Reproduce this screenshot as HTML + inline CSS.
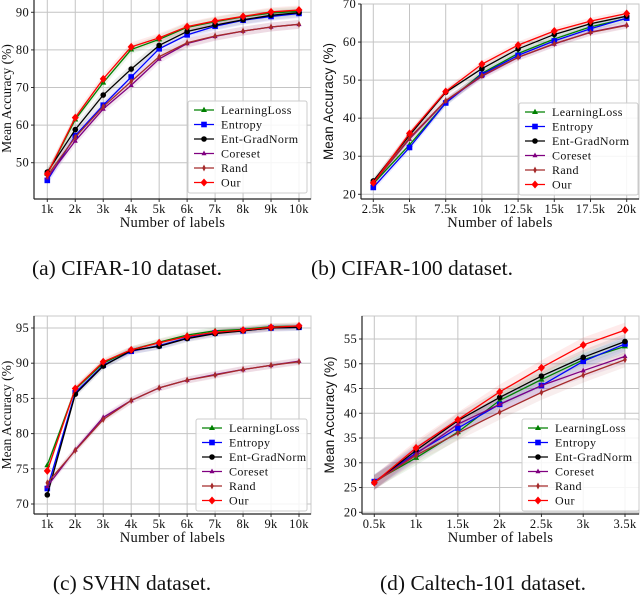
<!DOCTYPE html>
<html><head><meta charset="utf-8"><style>
html,body{margin:0;padding:0;background:#fff;}
svg{display:block;}
text{font-family:"Liberation Serif",serif;fill:#111;}
</style></head>
<body>
<svg id="fig" width="640" height="597" viewBox="0 0 640 597" xmlns="http://www.w3.org/2000/svg"></svg>
<script>
// ---- Data ----
const seriesNames = ["LearningLoss","Entropy","Ent-GradNorm","Coreset","Rand","Our"];
const seriesColors = ["#008000","#0000ff","#000000","#800080","#a52a2a","#ff0000"];

const cifar10Labels = ["1k","2k","3k","4k","5k","6k","7k","8k","9k","10k"];
const cifar10Ticks = [50,60,70,80,90];
const cifar10LL = [47,61.5,71.3,80.1,82.8,86,87.5,88.8,89.8,90.3];
const cifar10Ent = [45.3,57.2,65.3,72.8,80.3,84,86.3,87.9,88.9,89.7];
const cifar10EGN = [47.5,58.8,68,74.9,81.2,84.9,86.6,88,89.2,89.9];
const cifar10Core = [46,55.8,64.3,70.6,77.6,81.7,83.6,85,86.1,86.8];
const cifar10Rand = [46.5,56.8,64.9,71.6,78.2,81.9,83.7,85,86.1,86.8];
const cifar10Our = [47,62,72.3,80.8,83.2,86.2,87.7,88.9,90.1,90.6];

const cifar100Labels = ["2.5k","5k","7.5k","10k","12.5k","15k","17.5k","20k"];
const cifar100Ticks = [20,30,40,50,60,70];
const cifar100LL = [22.8,33,44,51.8,57,60.8,64,66.2];
const cifar100Ent = [21.8,32.3,44,51.5,56.5,60.3,63.5,66.3];
const cifar100EGN = [23.5,35.5,46.8,53,58.2,62,64.8,66.8];
const cifar100Core = [23,34.5,44.5,51,56,59.5,62.6,64.5];
const cifar100Rand = [23,34.8,44.6,51.2,56,59.6,62.5,64.4];
const cifar100Our = [23,36,47,54.2,59.2,62.9,65.5,67.5];

const svhnLabels = ["1k","2k","3k","4k","5k","6k","7k","8k","9k","10k"];
const svhnTicks = [70,75,80,85,90,95];
const svhnLL = [75.5,86.3,90,91.9,93,94,94.6,94.8,95.2,95.3];
const svhnEnt = [72.2,85.8,89.7,91.7,92.5,93.6,94.3,94.6,95,95.1];
const svhnEGN = [71.3,85.6,89.6,91.8,92.4,93.5,94.2,94.6,95,95.1];
const svhnCore = [72.5,77.7,82.3,84.7,86.5,87.6,88.4,89.1,89.7,90.3];
const svhnRand = [73,77.6,82,84.7,86.5,87.6,88.3,89.1,89.7,90.2];
const svhnOur = [74.7,86.4,90.2,91.9,92.9,93.8,94.4,94.7,95.1,95.3];

const caltechLabels = ["0.5k","1k","1.5k","2k","2.5k","3k","3.5k"];
const caltechTicks = [20,25,30,35,40,45,50,55];
const caltechLL = [26.2,31,36.2,42.6,46.8,50.8,53.5];
const caltechEnt = [26.2,32,37,41.8,45.6,50.5,54];
const caltechEGN = [26,32.5,38.5,43.2,47.5,51.3,54.5];
const caltechCore = [26,31.8,37.8,41.8,45.6,48.6,51.5];
const caltechRand = [26,31.5,36,40.2,44.2,47.7,50.8];
const caltechOur = [26,33,38.7,44.3,49.2,53.8,56.8];

// ---- Drawing ----
const NS="http://www.w3.org/2000/svg";
const svg=document.getElementById('fig');
function mk(tag,attrs,parent){const e=document.createElementNS(NS,tag);for(const k in attrs)e.setAttribute(k,attrs[k]);(parent||svg).appendChild(e);return e;}

function marker(g,kind,x,y,c){
  let e;
  if(kind===0){e=mk('polygon',{points:`${x},${y-3.2} ${x-3},${y+2} ${x+3},${y+2}`,fill:c},g);}
  else if(kind===1){e=mk('rect',{x:x-2.8,y:y-2.8,width:5.6,height:5.6,fill:c},g);}
  else if(kind===2){e=mk('circle',{cx:x,cy:y,r:2.8,fill:c},g);}
  else if(kind===3){e=mk('polygon',{points:`${x},${y-3} ${x-2.5},${y+1.8} ${x+2.5},${y+1.8}`,fill:c},g);}
  else if(kind===4){e=mk('polygon',{points:`${x},${y-3.5} ${x-1.8},${y} ${x},${y+3.5} ${x+1.8},${y}`,fill:c},g);}
  else {e=mk('polygon',{points:`${x},${y-4} ${x-3.5},${y} ${x},${y+4} ${x+3.5},${y}`,fill:c},g);}
  
  
}

function panel(cfg){
  const g=mk('g',{});
  
  
  const {L,R,T,B,x0,x1,y0v,y0p,y1v,y1p}=cfg;
  const xs=i=>x0+(x1-x0)*i/(cfg.labels.length-1);
  const ys=v=>y0p+(v-y0v)*(y1p-y0p)/(y1v-y0v);
  mk('rect',{x:L,y:T,width:R-L,height:B-T,fill:'#fff',stroke:'#c8c8c8'},g);
  cfg.labels.forEach((lab,i)=>{
    const x=xs(i);
    const gl=mk('line',{x1:x,x2:x,y1:T,y2:B,stroke:'#c4c4c4','stroke-width':1},g);
    
    
    const t=mk('text',{x:x,y:B+14,'text-anchor':'middle','font-size':12.5,'letter-spacing':0.3},g);t.textContent=lab;
    
    
    mk('line',{x1:x,x2:x,y1:B,y2:B+3,stroke:'#333'},g);
  });
  cfg.ticks.forEach(v=>{
    const y=ys(v);
    const gl=mk('line',{x1:L,x2:R,y1:y,y2:y,stroke:'#c4c4c4','stroke-width':1},g);
    
    
    const t=mk('text',{x:L-5,y:y+4,'text-anchor':'end','font-size':12.5,'letter-spacing':0.3},g);t.textContent=v;
    
    
    mk('line',{x1:L-3,x2:L,y1:y,y2:y,stroke:'#333'},g);
  });
  mk('line',{x1:L,x2:L,y1:T,y2:B,stroke:'#222','stroke-width':1.2},g);
  mk('line',{x1:L,x2:R,y1:B,y2:B,stroke:'#222','stroke-width':1.2},g);
  cfg.series.forEach((s,k)=>{
    const sp=cfg.band;
    let up=s.map((v,i)=>`${xs(i)},${ys(v+sp)}`), dn=s.map((v,i)=>`${xs(i)},${ys(v-sp)}`).reverse();
    const p=mk('polygon',{points:up.concat(dn).join(' '),fill:seriesColors[k],'fill-opacity':0.08},g);
    
    
  });
  cfg.series.forEach((s,k)=>{
    const pl=mk('polyline',{points:s.map((v,i)=>`${xs(i)},${ys(v)}`).join(' '),fill:'none',stroke:seriesColors[k],'stroke-width':1.3},g);
    
    
    s.forEach((v,i)=>marker(g,k,xs(i),ys(v),seriesColors[k]));
  });
  const xt=mk('text',{x:(L+R)/2,y:B+28,'text-anchor':'middle','font-size':14.5,'letter-spacing':0.3},g);xt.textContent='Number of labels';
  
  
  const yt=mk('text',{x:0,y:0,'text-anchor':'middle','font-size':13.5,transform:`translate(${cfg.ytx},${(T+B)/2}) rotate(-90)`,style:cfg.ysans?'font-family:"Liberation Sans",sans-serif':''},g);
  yt.textContent='Mean Accuracy (%)';
  
  
  const lg=mk('g',{},g);
  
  
  mk('rect',{x:cfg.lx,y:cfg.ly,width:cfg.lw,height:92,rx:2,fill:'#fff','fill-opacity':0.85,stroke:'#ccc'},lg);
  seriesNames.forEach((n,k)=>{
    const yy=cfg.ly+9+k*14.5;
    const e=mk('g',{},lg);
    
    
    mk('line',{x1:cfg.lx+6,x2:cfg.lx+26,y1:yy,y2:yy,stroke:seriesColors[k],'stroke-width':1.3},e);
    marker(e,k,cfg.lx+16,yy,seriesColors[k]);
    const t=mk('text',{x:cfg.lx+33,y:yy+4,'font-size':12,'letter-spacing':0.4},e);t.textContent=n;
  });
  const c=mk('text',{x:cfg.cx,y:cfg.cy,'text-anchor':'middle','font-size':21.5},g);c.textContent=cfg.caption;
  
  
}

panel({name:'cifar10-chart',L:34,R:311,T:-2,B:199,x0:47.3,x1:299,y0v:50,y0p:162.7,y1v:90,y1p:12.3,
  labels:cifar10Labels,ticks:cifar10Ticks,series:[cifar10LL,cifar10Ent,cifar10EGN,cifar10Core,cifar10Rand,cifar10Our],band:1.2,
  ytx:11,lx:188,ly:101,lw:119,cx:127,cy:275,caption:'(a) CIFAR-10 dataset.'});
panel({name:'cifar100-chart',L:361,R:639,T:4,B:199,x0:373.3,x1:626.7,y0v:20,y0p:194.3,y1v:70,y1p:4,
  labels:cifar100Labels,ticks:cifar100Ticks,series:[cifar100LL,cifar100Ent,cifar100EGN,cifar100Core,cifar100Rand,cifar100Our],band:0.9,
  ytx:333,ysans:true,lx:519,ly:103,lw:119,cx:412,cy:275,caption:'(b) CIFAR-100 dataset.'});
panel({name:'svhn-chart',L:34,R:311,T:316,B:514,x0:47.3,x1:299,y0v:70,y0p:504,y1v:95,y1p:328,
  labels:svhnLabels,ticks:svhnTicks,series:[svhnLL,svhnEnt,svhnEGN,svhnCore,svhnRand,svhnOur],band:0.5,
  ytx:11,lx:196,ly:419,lw:111,cx:132,cy:590,caption:'(c) SVHN dataset.'});
panel({name:'caltech101-chart',L:362,R:639,T:316,B:514,x0:374.3,x1:625,y0v:20,y0p:512.3,y1v:55,y1p:339,
  labels:caltechLabels,ticks:caltechTicks,series:[caltechLL,caltechEnt,caltechEGN,caltechCore,caltechRand,caltechOur],band:1.5,
  ytx:334,ysans:true,lx:522,ly:419,lw:117,cx:483,cy:590,caption:'(d) Caltech-101 dataset.'});
</script>
</body></html>
